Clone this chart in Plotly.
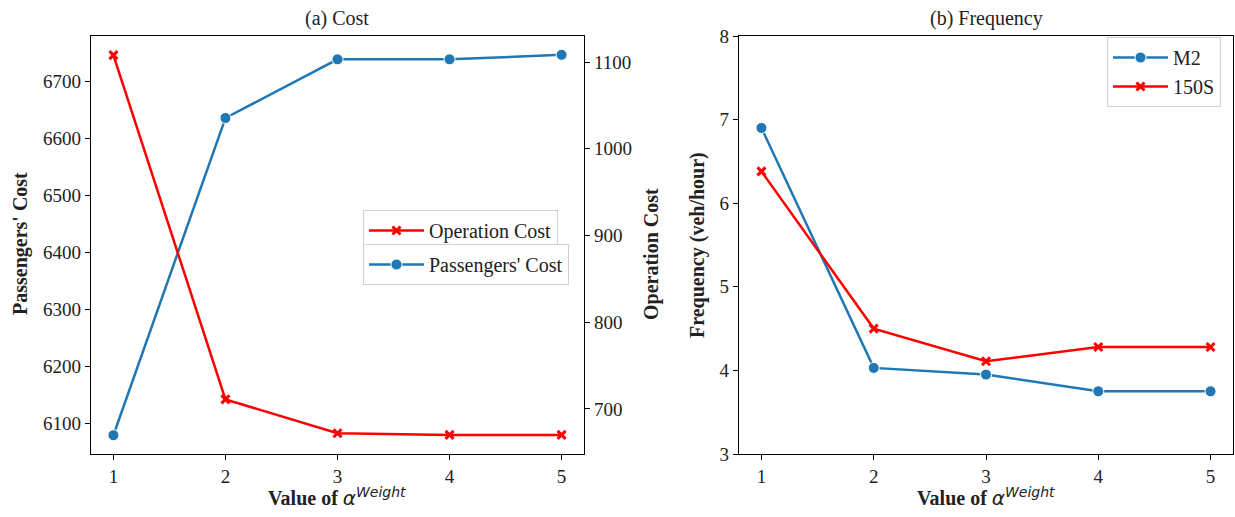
import plotly.graph_objects as go

x_vals = [1, 2, 3, 4, 5]
passengers_cost = [6079, 6636, 6739, 6739, 6747]
operation_cost = [1108, 711, 672, 670, 670]
freq_m2 = [6.90, 4.03, 3.95, 3.75, 3.75]
freq_150s = [6.38, 4.50, 4.11, 4.28, 4.28]

W, H = 1235, 517
BLUE = "#1f77b4"
RED = "#ff0000"
FONT = "Liberation Serif"

def px(xp):
    return xp / W

def py(yp):
    return 1 - yp / H

fig = go.Figure()

fig.add_trace(go.Scatter(
    x=x_vals, y=passengers_cost, name="Passengers' Cost", mode="lines+markers",
    line=dict(color=BLUE, width=2.5),
    marker=dict(symbol="circle", size=11, color=BLUE, line=dict(color="white", width=1)),
    xaxis="x", yaxis="y", legend="legend2", showlegend=True))
fig.add_trace(go.Scatter(
    x=x_vals, y=operation_cost, name="Operation Cost", mode="lines+markers",
    line=dict(color=RED, width=2.5),
    marker=dict(symbol="x-thin", size=8, color=RED, line=dict(color=RED, width=3)),
    xaxis="x", yaxis="y2", legend="legend", showlegend=True))
fig.add_trace(go.Scatter(
    x=x_vals, y=freq_m2, name="M2", mode="lines+markers",
    line=dict(color=BLUE, width=2.5),
    marker=dict(symbol="circle", size=11, color=BLUE, line=dict(color="white", width=1)),
    xaxis="x2", yaxis="y3", legend="legend3", showlegend=True))
fig.add_trace(go.Scatter(
    x=x_vals, y=freq_150s, name="150S", mode="lines+markers",
    line=dict(color=RED, width=2.5),
    marker=dict(symbol="x-thin", size=8, color=RED, line=dict(color=RED, width=3)),
    xaxis="x2", yaxis="y3", legend="legend3", showlegend=True))

tickfont = dict(family=FONT, size=19, color="#222")
axis_common = dict(showline=True, linecolor="black", linewidth=1.3, ticks="outside",
                   ticklen=5, tickwidth=1.3, tickcolor="black", showgrid=False,
                   zeroline=False, tickfont=tickfont, automargin=False)

y_dom = [py(454), py(36)]
legfont = dict(family=FONT, size=20, color="#222")
legbox = dict(xanchor="left", yanchor="top", bgcolor="white", bordercolor="#d0d0d0",
              borderwidth=1, font=legfont, itemwidth=55, tracegroupgap=0)

fig.update_layout(
    width=W, height=H,
    showlegend=True,
    margin=dict(l=0, r=0, t=0, b=0),
    paper_bgcolor="white", plot_bgcolor="white",
    font=dict(family=FONT, size=20, color="#222"),
    xaxis=dict(domain=[px(91), px(584)], range=[0.8, 5.2], tickvals=x_vals,
               mirror=True, anchor="y", **axis_common),
    yaxis=dict(domain=y_dom, range=[6046, 6780], tickvals=[6100, 6200, 6300, 6400, 6500, 6600, 6700],
               anchor="x", **axis_common),
    yaxis2=dict(overlaying="y", side="right", range=[648, 1130], tickvals=[700, 800, 900, 1000, 1100],
                anchor="x", **axis_common),
    xaxis2=dict(domain=[px(739), px(1233)], range=[0.8, 5.2], tickvals=x_vals,
                mirror=True, anchor="y3", **axis_common),
    yaxis3=dict(domain=y_dom, range=[3, 8], tickvals=[3, 4, 5, 6, 7, 8],
                mirror=True, anchor="x2", **axis_common),
    legend=dict(x=px(363), y=py(210), **legbox),
    legend2=dict(x=px(363), y=py(244), **legbox),
    legend3=dict(x=px(1107), y=py(37), **legbox),
)

xlabel = "<b>Value of</b> <span style='font-family:DejaVu Sans'><i>α</i><sup><i>Weight</i></sup></span>"
annos = [
    dict(text="(a) Cost", x=px(337), y=py(18)),
    dict(text="(b) Frequency", x=px(986), y=py(18)),
    dict(text="<b>Passengers' Cost</b>", x=px(20), y=py(244), textangle=-90),
    dict(text="<b>Operation Cost</b>", x=px(652), y=py(254), textangle=-90),
    dict(text="<b>Frequency (veh/hour)</b>", x=px(697), y=py(245), textangle=-90),
    dict(text=xlabel, x=px(337), y=py(497)),
    dict(text=xlabel, x=px(986), y=py(497)),
]
for a in annos:
    fig.add_annotation(xref="paper", yref="paper", showarrow=False,
                       xanchor="center", yanchor="middle",
                       font=dict(family=FONT, size=20, color="#222"), **a)

fig.write_html("out.html", config={"displayModeBar": False},
               post_script="document.body.style.margin='0';document.body.style.padding='0';")
